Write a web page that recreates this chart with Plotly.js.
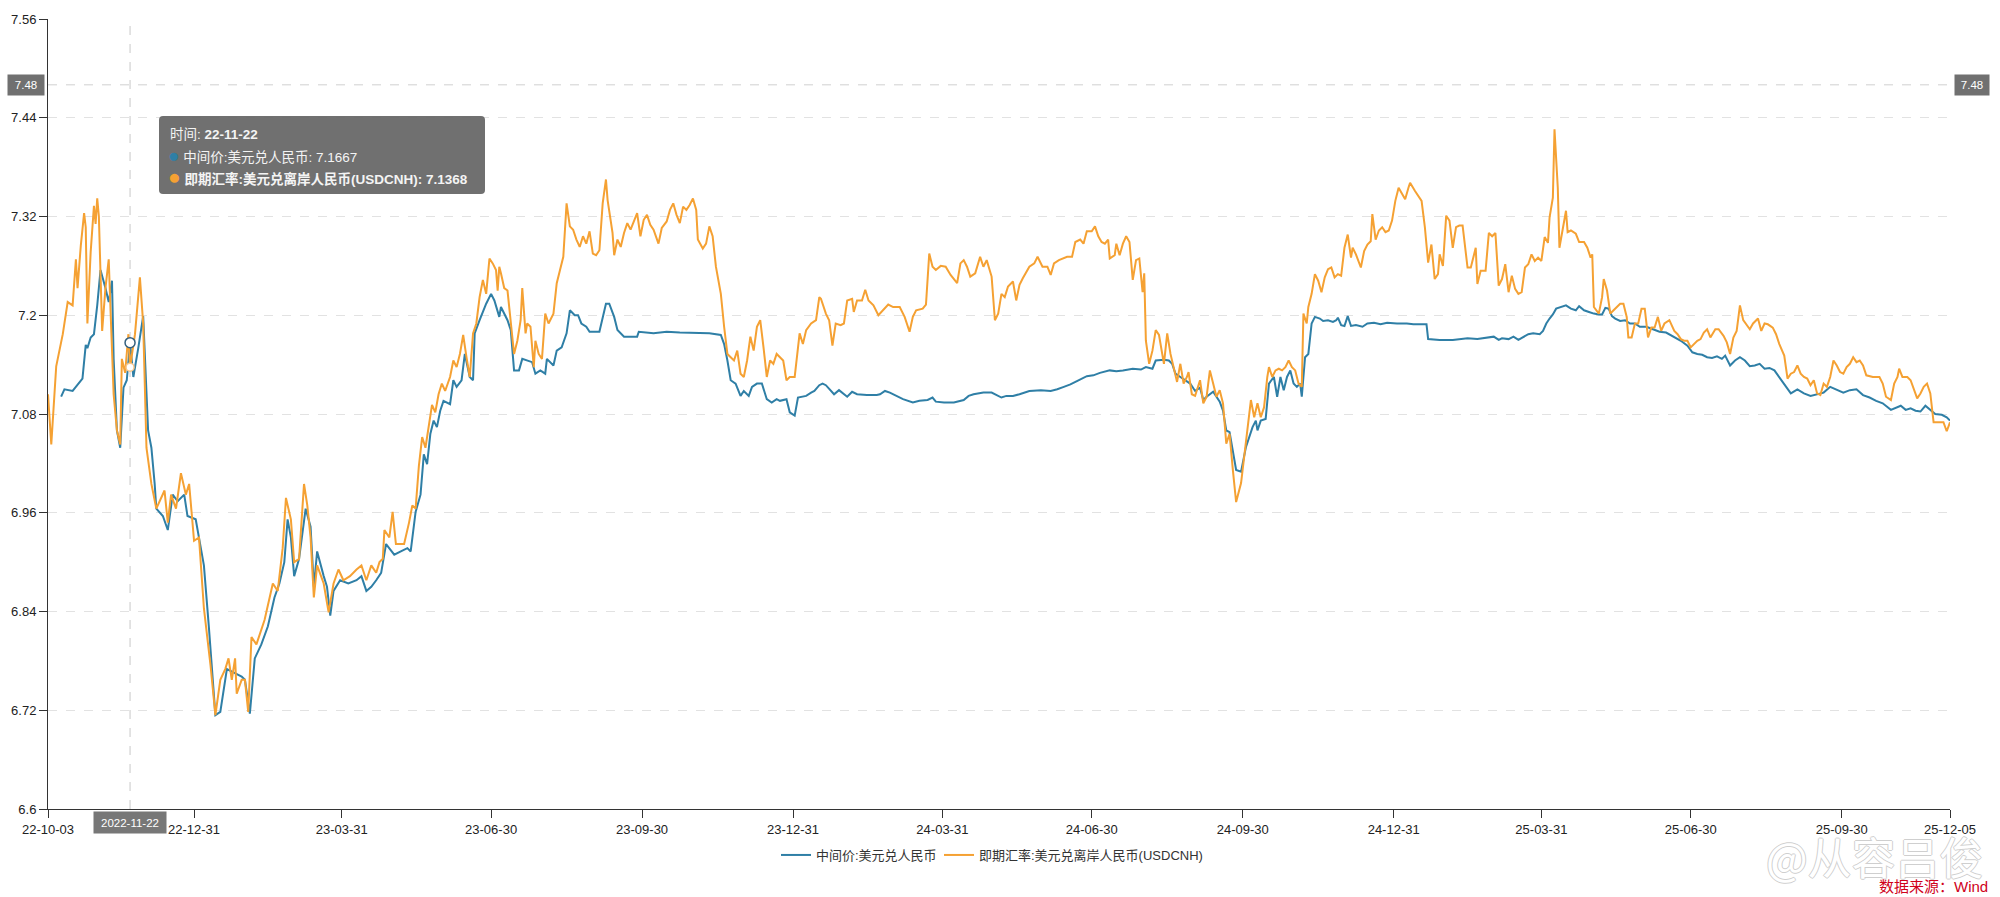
<!DOCTYPE html>
<html>
<head>
<meta charset="utf-8">
<script src="https://cdn.plot.ly/plotly-3.0.1.min.js"></script>
<style>
html,body{margin:0;padding:0;background:#fff;}
#chart{width:2000px;height:897px;}
</style>
</head>
<body>
<div id="chart"></div>
<script>
// ---------------- DATA ----------------
// 中间价:美元兑人民币 (CNY central parity)
const cnyDates = [
'2022-10-11','2022-10-13','2022-10-18','2022-10-21','2022-10-24','2022-10-26','2022-10-27','2022-10-29','2022-10-31',
'2022-11-02','2022-11-04','2022-11-07','2022-11-09','2022-11-11','2022-11-12','2022-11-14','2022-11-16','2022-11-18','2022-11-20','2022-11-22','2022-11-24','2022-11-27','2022-11-30',
'2022-12-03','2022-12-05','2022-12-07','2022-12-08','2022-12-12','2022-12-15','2022-12-18','2022-12-21','2022-12-25','2022-12-27',
'2023-01-01','2023-01-06','2023-01-09','2023-01-11','2023-01-13','2023-01-16','2023-01-20','2023-01-24','2023-01-29','2023-01-31',
'2023-02-03','2023-02-06','2023-02-10','2023-02-14','2023-02-18','2023-02-21','2023-02-24','2023-02-26','2023-02-28',
'2023-03-02','2023-03-05','2023-03-09','2023-03-12','2023-03-14','2023-03-16','2023-03-20','2023-03-22','2023-03-24','2023-03-26','2023-03-30',
'2023-04-04','2023-04-09','2023-04-12','2023-04-15','2023-04-18','2023-04-21','2023-04-24','2023-04-27',
'2023-05-02','2023-05-06','2023-05-10','2023-05-12','2023-05-15','2023-05-18','2023-05-20','2023-05-22','2023-05-24','2023-05-26','2023-05-28','2023-05-30',
'2023-06-01','2023-06-05','2023-06-07','2023-06-09','2023-06-12','2023-06-14','2023-06-17','2023-06-19','2023-06-20','2023-06-23','2023-06-27','2023-06-30',
'2023-07-02','2023-07-05','2023-07-06','2023-07-10','2023-07-12','2023-07-14','2023-07-17','2023-07-19','2023-07-22','2023-07-25','2023-07-27','2023-07-30',
'2023-08-02','2023-08-03','2023-08-07','2023-08-09','2023-08-12','2023-08-15','2023-08-17','2023-08-20','2023-08-22','2023-08-24','2023-08-27','2023-08-29',
'2023-09-04','2023-09-06','2023-09-08','2023-09-10','2023-09-13','2023-09-15','2023-09-19','2023-09-27','2023-09-28',
'2023-10-07','2023-10-15','2023-10-23','2023-11-02','2023-11-10','2023-11-17','2023-11-19','2023-11-21','2023-11-23','2023-11-26','2023-11-29',
'2023-12-01','2023-12-04','2023-12-06','2023-12-09','2023-12-12','2023-12-15','2023-12-18','2023-12-21','2023-12-23','2023-12-27','2023-12-29',
'2024-01-01','2024-01-03','2024-01-08','2024-01-11','2024-01-13','2024-01-16','2024-01-18','2024-01-20','2024-01-23','2024-01-25','2024-01-28','2024-01-31',
'2024-02-02','2024-02-05','2024-02-08','2024-02-14','2024-02-20','2024-02-22','2024-02-25','2024-02-28',
'2024-03-03','2024-03-07','2024-03-13','2024-03-17','2024-03-22','2024-03-25','2024-03-27',
'2024-04-01','2024-04-07','2024-04-13','2024-04-16','2024-04-19','2024-04-25','2024-04-30',
'2024-05-06','2024-05-09','2024-05-13','2024-05-17','2024-05-23','2024-05-30',
'2024-06-05','2024-06-09','2024-06-13','2024-06-17','2024-06-21','2024-06-27',
'2024-07-01','2024-07-05','2024-07-11','2024-07-15','2024-07-19','2024-07-25','2024-07-30',
'2024-08-02','2024-08-06','2024-08-08','2024-08-13','2024-08-16','2024-08-18','2024-08-20','2024-08-23','2024-08-26','2024-08-29',
'2024-09-01','2024-09-04','2024-09-06','2024-09-08','2024-09-12','2024-09-14','2024-09-16','2024-09-18','2024-09-20','2024-09-22','2024-09-24','2024-09-26','2024-09-29',
'2024-10-02','2024-10-06','2024-10-08','2024-10-09','2024-10-11','2024-10-14','2024-10-16','2024-10-19','2024-10-21','2024-10-23','2024-10-25','2024-10-27','2024-10-29','2024-10-31',
'2024-11-02','2024-11-04','2024-11-05','2024-11-07','2024-11-09','2024-11-11','2024-11-13','2024-11-16','2024-11-18','2024-11-21','2024-11-24','2024-11-26','2024-11-27','2024-11-29',
'2024-12-01','2024-12-03','2024-12-05','2024-12-08','2024-12-12','2024-12-15','2024-12-19','2024-12-23','2024-12-27',
'2025-01-02','2025-01-08','2025-01-12','2025-01-20','2025-01-21','2025-01-28',
'2025-02-05','2025-02-14','2025-02-20','2025-02-24',
'2025-03-02','2025-03-05','2025-03-07','2025-03-11','2025-03-14','2025-03-17','2025-03-20','2025-03-23','2025-03-26','2025-03-30',
'2025-04-01','2025-04-03','2025-04-05','2025-04-07','2025-04-09','2025-04-12','2025-04-15','2025-04-18','2025-04-21','2025-04-23','2025-04-26','2025-04-29',
'2025-05-02','2025-05-05','2025-05-07','2025-05-09','2025-05-11','2025-05-13','2025-05-15','2025-05-18','2025-05-21','2025-05-24','2025-05-27','2025-05-30',
'2025-06-03','2025-06-07','2025-06-11','2025-06-15','2025-06-20','2025-06-24','2025-06-28',
'2025-07-01','2025-07-04','2025-07-07','2025-07-10','2025-07-13','2025-07-16','2025-07-19','2025-07-21','2025-07-24','2025-07-27','2025-07-30',
'2025-08-02','2025-08-05','2025-08-08','2025-08-11','2025-08-14','2025-08-17','2025-08-20','2025-08-23','2025-08-27','2025-08-30',
'2025-09-03','2025-09-07','2025-09-11','2025-09-15','2025-09-19','2025-09-23','2025-09-27',
'2025-10-01','2025-10-05','2025-10-09','2025-10-13','2025-10-17','2025-10-21','2025-10-25','2025-10-30',
'2025-11-02','2025-11-05','2025-11-08','2025-11-11','2025-11-14','2025-11-17','2025-11-20','2025-11-23','2025-11-26','2025-11-30','2025-12-03','2025-12-05'
];
const cnyValues = [
7.101,7.11,7.108,7.116,7.123,7.164,7.16,7.173,7.177,
7.212,7.255,7.233,7.216,7.242,7.147,7.06,7.039,7.112,7.121,7.1667,7.125,7.16,7.199,
7.06,7.039,6.995,6.965,6.956,6.939,6.982,6.974,6.982,6.956,
6.952,6.896,6.822,6.766,6.714,6.718,6.77,6.766,6.761,6.757,
6.716,6.783,6.80,6.822,6.857,6.874,6.90,6.952,6.93,
6.883,6.904,6.965,6.943,6.87,6.913,6.883,6.87,6.835,6.865,6.878,
6.874,6.878,6.883,6.865,6.87,6.878,6.887,6.922,
6.909,6.913,6.917,6.913,6.961,6.982,7.031,7.019,7.056,7.072,7.064,7.084,
7.096,7.092,7.121,7.113,7.121,7.153,7.125,7.121,7.178,7.194,7.214,7.226,
7.218,7.198,7.21,7.194,7.182,7.133,7.133,7.147,7.145,7.143,7.129,7.133,
7.129,7.147,7.139,7.157,7.161,7.178,7.206,7.2,7.2,7.19,7.186,7.18,
7.18,7.198,7.214,7.214,7.198,7.182,7.174,7.174,7.18,
7.178,7.18,7.179,7.178,7.178,7.176,7.165,7.145,7.121,7.117,7.102,
7.108,7.102,7.113,7.117,7.117,7.098,7.094,7.098,7.096,7.098,7.082,
7.078,7.1,7.102,7.106,7.108,7.115,7.117,7.115,7.108,7.104,7.109,7.104,
7.101,7.107,7.104,7.103,7.103,7.104,7.108,7.106,
7.102,7.098,7.094,7.096,7.097,7.1,7.095,
7.094,7.094,7.097,7.102,7.104,7.106,7.106,
7.1,7.102,7.102,7.104,7.108,7.109,
7.108,7.11,7.113,7.116,7.12,7.126,
7.127,7.13,7.133,7.132,7.133,7.135,7.134,
7.137,7.135,7.145,7.146,7.145,7.141,7.129,7.125,7.121,7.117,
7.108,7.112,7.097,7.101,7.107,7.101,7.095,7.084,7.06,7.058,7.036,7.012,7.01,
7.04,7.064,7.072,7.06,7.072,7.074,7.117,7.125,7.101,7.125,7.109,7.125,7.133,7.117,
7.113,7.117,7.101,7.149,7.153,7.19,7.198,7.196,7.193,7.194,7.192,7.194,7.197,7.188,
7.187,7.199,7.187,7.188,7.186,7.19,7.191,7.189,7.191,
7.19,7.19,7.189,7.189,7.171,7.17,
7.17,7.172,7.171,7.172,
7.174,7.17,7.172,7.171,7.174,7.17,7.174,7.177,7.178,7.177,
7.181,7.19,7.196,7.201,7.208,7.21,7.212,7.208,7.206,7.211,7.206,7.204,
7.202,7.201,7.201,7.209,7.208,7.199,7.196,7.193,7.194,7.19,7.19,7.186,
7.186,7.183,7.18,7.179,7.174,7.169,7.163,
7.155,7.153,7.152,7.149,7.148,7.15,7.147,7.151,7.139,7.145,7.149,
7.145,7.138,7.139,7.141,7.135,7.136,7.133,7.125,7.113,7.105,
7.11,7.105,7.102,7.104,7.106,7.113,7.109,
7.106,7.109,7.11,7.103,7.1,7.096,7.093,7.085,
7.088,7.09,7.085,7.087,7.084,7.083,7.09,7.085,7.08,7.079,7.076,7.072
];

// 即期汇率:美元兑离岸人民币(USDCNH)
const cnhDates = [
'2022-10-03','2022-10-05','2022-10-08','2022-10-12','2022-10-15','2022-10-18','2022-10-20','2022-10-21','2022-10-23','2022-10-25','2022-10-26','2022-10-27','2022-10-29','2022-10-31',
'2022-11-01','2022-11-02','2022-11-03','2022-11-04','2022-11-05','2022-11-07','2022-11-09','2022-11-10','2022-11-12','2022-11-14','2022-11-16','2022-11-17','2022-11-19','2022-11-21','2022-11-22','2022-11-25','2022-11-28','2022-11-30',
'2022-12-02','2022-12-05','2022-12-08','2022-12-13','2022-12-15','2022-12-17','2022-12-20','2022-12-23','2022-12-26','2022-12-28','2022-12-31',
'2023-01-03','2023-01-06','2023-01-10','2023-01-13','2023-01-16','2023-01-19','2023-01-21','2023-01-23','2023-01-25','2023-01-26','2023-01-29','2023-01-31',
'2023-02-02','2023-02-04','2023-02-07','2023-02-12','2023-02-17','2023-02-20','2023-02-23','2023-02-25','2023-02-28',
'2023-03-02','2023-03-05','2023-03-08','2023-03-10','2023-03-12','2023-03-14','2023-03-16','2023-03-20','2023-03-23','2023-03-26','2023-03-29',
'2023-04-01','2023-04-05','2023-04-09','2023-04-12','2023-04-15','2023-04-18','2023-04-21','2023-04-23','2023-04-25','2023-04-26','2023-04-29',
'2023-05-01','2023-05-03','2023-05-08','2023-05-11','2023-05-13','2023-05-15','2023-05-17','2023-05-19','2023-05-21','2023-05-25','2023-05-27','2023-05-29','2023-05-31',
'2023-06-02','2023-06-05','2023-06-07','2023-06-09','2023-06-11','2023-06-13','2023-06-15','2023-06-17','2023-06-19','2023-06-21','2023-06-23','2023-06-25','2023-06-27','2023-06-29',
'2023-07-01','2023-07-03','2023-07-04','2023-07-05','2023-07-06','2023-07-08','2023-07-10','2023-07-12','2023-07-14','2023-07-16','2023-07-18','2023-07-19','2023-07-21','2023-07-22','2023-07-24','2023-07-26','2023-07-27','2023-07-29','2023-07-31',
'2023-08-02','2023-08-04','2023-08-07','2023-08-09','2023-08-11','2023-08-13','2023-08-15','2023-08-17','2023-08-19','2023-08-21','2023-08-23','2023-08-25','2023-08-27','2023-08-29','2023-08-31',
'2023-09-02','2023-09-04','2023-09-06','2023-09-08','2023-09-09','2023-09-12','2023-09-13','2023-09-15','2023-09-17','2023-09-19','2023-09-21','2023-09-23','2023-09-25','2023-09-27','2023-09-29',
'2023-10-01','2023-10-03','2023-10-05','2023-10-07','2023-10-10','2023-10-12','2023-10-15','2023-10-17','2023-10-19','2023-10-21','2023-10-23','2023-10-25','2023-10-27','2023-10-29','2023-10-31',
'2023-11-02','2023-11-03','2023-11-06','2023-11-08','2023-11-10','2023-11-12','2023-11-14','2023-11-17','2023-11-19','2023-11-21','2023-11-23','2023-11-25','2023-11-27','2023-11-29',
'2023-12-01','2023-12-03','2023-12-05','2023-12-07','2023-12-09','2023-12-11','2023-12-13','2023-12-15','2023-12-17','2023-12-19','2023-12-21','2023-12-23','2023-12-25','2023-12-27','2023-12-29',
'2024-01-01','2024-01-04','2024-01-06','2024-01-08','2024-01-11','2024-01-14','2024-01-16','2024-01-17','2024-01-20','2024-01-22','2024-01-24','2024-01-26','2024-01-29','2024-01-31',
'2024-02-02','2024-02-05','2024-02-06','2024-02-08','2024-02-11','2024-02-13','2024-02-15','2024-02-18','2024-02-21','2024-02-24','2024-02-27',
'2024-03-01','2024-03-05','2024-03-08','2024-03-11','2024-03-13','2024-03-15','2024-03-19','2024-03-21','2024-03-23','2024-03-25','2024-03-27','2024-03-30',
'2024-04-02','2024-04-05','2024-04-09','2024-04-11','2024-04-13','2024-04-15','2024-04-17','2024-04-20','2024-04-23','2024-04-25','2024-04-27','2024-04-30',
'2024-05-02','2024-05-04','2024-05-06','2024-05-08','2024-05-10','2024-05-13','2024-05-15','2024-05-17','2024-05-19','2024-05-21','2024-05-23','2024-05-26','2024-05-28','2024-05-31',
'2024-06-03','2024-06-05','2024-06-07','2024-06-10','2024-06-13','2024-06-15','2024-06-18','2024-06-20','2024-06-23','2024-06-25','2024-06-27','2024-06-30',
'2024-07-02','2024-07-04','2024-07-06','2024-07-08','2024-07-10','2024-07-11','2024-07-14','2024-07-15','2024-07-17','2024-07-19','2024-07-21','2024-07-23','2024-07-25','2024-07-27','2024-07-29','2024-07-31',
'2024-08-01','2024-08-02','2024-08-04','2024-08-06','2024-08-08','2024-08-10','2024-08-13','2024-08-15','2024-08-17','2024-08-19','2024-08-21','2024-08-23','2024-08-25','2024-08-27','2024-08-28','2024-08-30',
'2024-09-01','2024-09-04','2024-09-06','2024-09-08','2024-09-10','2024-09-12','2024-09-14','2024-09-16','2024-09-18','2024-09-20','2024-09-22','2024-09-24','2024-09-26','2024-09-29',
'2024-10-02','2024-10-05','2024-10-07','2024-10-09','2024-10-11','2024-10-13','2024-10-15','2024-10-16','2024-10-18','2024-10-20','2024-10-22','2024-10-24','2024-10-26','2024-10-28','2024-10-30',
'2024-11-01','2024-11-03','2024-11-05','2024-11-06','2024-11-08','2024-11-09','2024-11-11','2024-11-13','2024-11-15','2024-11-17','2024-11-19','2024-11-21','2024-11-23','2024-11-25','2024-11-27','2024-11-29',
'2024-12-01','2024-12-03','2024-12-05','2024-12-06','2024-12-08','2024-12-11','2024-12-13','2024-12-15','2024-12-17','2024-12-18','2024-12-20','2024-12-22','2024-12-24','2024-12-26','2024-12-28','2024-12-30',
'2025-01-01','2025-01-03','2025-01-05','2025-01-07','2025-01-09','2025-01-10','2025-01-13','2025-01-15','2025-01-17','2025-01-19','2025-01-21','2025-01-23','2025-01-25','2025-01-27','2025-01-28','2025-01-30',
'2025-02-01','2025-02-03','2025-02-05','2025-02-07','2025-02-09','2025-02-11','2025-02-14','2025-02-16','2025-02-19','2025-02-20','2025-02-22','2025-02-25','2025-02-27',
'2025-03-01','2025-03-03','2025-03-05','2025-03-07','2025-03-09','2025-03-11','2025-03-13','2025-03-15','2025-03-17','2025-03-19','2025-03-21','2025-03-23','2025-03-25','2025-03-27','2025-03-29','2025-03-31',
'2025-04-02','2025-04-04','2025-04-05','2025-04-07','2025-04-08','2025-04-10','2025-04-11','2025-04-13','2025-04-15','2025-04-16','2025-04-18','2025-04-21','2025-04-23','2025-04-26','2025-04-28','2025-04-30',
'2025-05-01','2025-05-02','2025-05-05','2025-05-07','2025-05-08','2025-05-10','2025-05-12','2025-05-14','2025-05-16','2025-05-18','2025-05-20','2025-05-22','2025-05-23','2025-05-25','2025-05-27','2025-05-29','2025-05-31',
'2025-06-02','2025-06-04','2025-06-06','2025-06-08','2025-06-10','2025-06-12','2025-06-14','2025-06-17','2025-06-20','2025-06-22','2025-06-24','2025-06-26','2025-06-28','2025-06-30',
'2025-07-02','2025-07-04','2025-07-06','2025-07-08','2025-07-10','2025-07-12','2025-07-15','2025-07-17','2025-07-20','2025-07-22','2025-07-24','2025-07-26','2025-07-28','2025-07-30',
'2025-08-01','2025-08-03','2025-08-05','2025-08-07','2025-08-10','2025-08-12','2025-08-14','2025-08-16','2025-08-19','2025-08-21','2025-08-23','2025-08-26','2025-08-28','2025-08-30',
'2025-09-01','2025-09-03','2025-09-05','2025-09-07','2025-09-09','2025-09-11','2025-09-13','2025-09-15','2025-09-17','2025-09-19','2025-09-21','2025-09-23','2025-09-25','2025-09-27','2025-09-29',
'2025-10-01','2025-10-03','2025-10-05','2025-10-07','2025-10-09','2025-10-11','2025-10-13','2025-10-15','2025-10-19','2025-10-23','2025-10-25','2025-10-27','2025-10-30',
'2025-11-01','2025-11-03','2025-11-04','2025-11-06','2025-11-09','2025-11-11','2025-11-13','2025-11-15','2025-11-17','2025-11-19','2025-11-21','2025-11-23','2025-11-25','2025-11-28','2025-12-01','2025-12-03','2025-12-05'
];
const cnhValues = [
7.104,7.043,7.138,7.177,7.216,7.212,7.268,7.233,7.285,7.324,7.307,7.19,7.277,7.333,
7.311,7.342,7.32,7.255,7.181,7.233,7.268,7.212,7.104,7.06,7.043,7.147,7.13,7.177,7.1368,7.177,7.246,7.19,
7.039,6.995,6.965,6.987,6.948,6.982,6.965,7.008,6.982,6.995,6.926,
6.93,6.844,6.775,6.714,6.757,6.77,6.783,6.757,6.783,6.74,6.757,6.757,
6.718,6.809,6.80,6.83,6.874,6.865,6.917,6.978,6.952,
6.90,6.904,6.995,6.969,6.93,6.857,6.896,6.874,6.839,6.874,6.891,
6.878,6.883,6.891,6.896,6.878,6.896,6.887,6.90,6.904,6.939,6.93,
6.961,6.922,6.922,6.948,6.969,6.965,7.017,7.052,7.039,7.091,7.082,7.104,7.117,
7.108,7.125,7.145,7.137,7.153,7.176,7.149,7.125,7.178,7.19,7.222,7.243,7.226,7.269,
7.263,7.255,7.23,7.259,7.251,7.233,7.23,7.194,7.153,7.169,7.194,7.233,7.178,7.19,7.186,7.137,7.169,7.153,7.147,
7.202,7.19,7.202,7.239,7.255,7.271,7.336,7.308,7.304,7.292,7.283,7.296,7.287,7.302,7.275,
7.273,7.279,7.336,7.365,7.34,7.30,7.273,7.292,7.283,7.30,7.312,7.304,7.314,7.324,7.296,
7.316,7.322,7.31,7.304,7.287,7.306,7.314,7.328,7.336,7.322,7.312,7.332,7.328,7.334,7.342,
7.328,7.292,7.281,7.287,7.308,7.296,7.259,7.226,7.186,7.153,7.149,7.145,7.157,7.129,
7.125,7.145,7.174,7.157,7.186,7.194,7.161,7.125,7.145,7.141,7.153,7.149,7.145,7.121,7.125,
7.125,7.178,7.165,7.182,7.19,7.194,7.222,7.22,7.202,7.194,7.163,7.19,7.188,7.19,
7.218,7.22,7.204,7.218,7.218,7.231,7.218,7.212,7.2,7.206,7.213,
7.21,7.21,7.198,7.18,7.198,7.206,7.208,7.213,7.275,7.259,7.255,7.26,
7.259,7.249,7.239,7.263,7.267,7.259,7.247,7.251,7.271,7.259,7.267,7.247,
7.194,7.202,7.226,7.222,7.235,7.241,7.218,7.237,7.245,7.253,7.259,7.263,7.271,7.259,
7.259,7.249,7.263,7.267,7.269,7.271,7.271,7.289,7.292,7.287,7.302,7.302,
7.308,7.296,7.289,7.287,7.292,7.269,7.273,7.287,7.273,7.287,7.296,7.289,7.243,7.267,7.269,7.228,
7.251,7.169,7.141,7.157,7.182,7.176,7.141,7.178,7.153,7.137,7.119,7.141,7.117,7.125,7.131,7.104,
7.102,7.121,7.093,7.101,7.133,7.117,7.101,7.109,7.093,7.044,7.056,7.012,6.973,6.996,
7.044,7.097,7.076,7.093,7.076,7.088,7.125,7.137,7.125,7.133,7.135,7.133,7.137,7.145,7.137,
7.133,7.117,7.113,7.202,7.19,7.21,7.226,7.25,7.242,7.228,7.246,7.256,7.258,7.246,7.25,7.248,
7.282,7.298,7.27,7.282,7.274,7.258,7.278,7.286,7.29,7.323,7.292,7.303,7.307,7.301,7.303,7.315,
7.339,7.355,7.347,7.341,7.355,7.361,7.351,7.345,7.339,7.307,7.264,7.286,7.244,7.25,7.274,7.26,
7.321,7.315,7.282,7.307,7.309,7.309,7.258,7.258,7.282,7.238,7.254,7.254,7.30,
7.296,7.30,7.236,7.244,7.262,7.228,7.248,7.232,7.226,7.228,7.258,7.262,7.274,7.266,7.27,7.266,
7.295,7.288,7.319,7.343,7.426,7.355,7.282,7.303,7.327,7.301,7.303,7.299,7.289,7.289,7.282,7.27,
7.274,7.21,7.202,7.222,7.244,7.23,7.202,7.206,7.21,7.214,7.214,7.198,7.173,7.173,7.19,7.19,7.208,
7.208,7.173,7.185,7.185,7.198,7.181,7.19,7.194,7.181,7.177,7.171,7.169,7.169,7.161,
7.165,7.169,7.171,7.179,7.183,7.173,7.183,7.183,7.175,7.167,7.153,7.173,7.181,7.212,
7.194,7.188,7.183,7.19,7.196,7.181,7.19,7.189,7.185,7.177,7.165,7.151,7.123,7.129,
7.131,7.139,7.129,7.125,7.123,7.115,7.121,7.105,7.103,7.117,7.113,7.125,7.145,7.139,7.131,
7.129,7.137,7.141,7.149,7.143,7.145,7.139,7.127,7.125,7.125,7.117,7.101,7.097,
7.117,7.125,7.135,7.125,7.125,7.121,7.109,7.099,7.105,7.113,7.117,7.105,7.07,7.07,7.07,7.059,7.07
];

const seriesNames = ['中间价:美元兑人民币', '即期汇率:美元兑离岸人民币(USDCNH)'];
const seriesColors = ['#2f7fa6', '#f5a133'];

const xTickDates = ['2022-10-03','2022-12-31','2023-03-31','2023-06-30','2023-09-30','2023-12-31','2024-03-31','2024-06-30','2024-09-30','2024-12-31','2025-03-31','2025-06-30','2025-09-30','2025-12-05'];
const xTickLabels = ['22-10-03','22-12-31','23-03-31','23-06-30','23-09-30','23-12-31','24-03-31','24-06-30','24-09-30','24-12-31','25-03-31','25-06-30','25-09-30','25-12-05'];
const yTickValues = [6.6,6.72,6.84,6.96,7.08,7.2,7.32,7.44,7.56];
const yTickLabels = ['6.6','6.72','6.84','6.96','7.08','7.2','7.32','7.44','7.56'];

// hover state shown in the picture
const hoverDate = '2022-11-22';
const hoverDateLabel = '22-11-22';
const hoverDateFull = '2022-11-22';
const hoverCNY = 7.1667;
const hoverCNH = 7.1368;
const crossY = 7.48;

// ---------------- CHART ----------------
const FONT = 'Liberation Sans, Arial, Noto Sans CJK SC, sans-serif';
const W = 2000, H = 897, ML = 48, MR = 50, MT = 19, MB = 88;
const PW = W - ML - MR, PH = H - MT - MB;
const px = v => (v - ML) / PW;          // pixel x -> paper x
const py = v => (H - MB - v) / PH;      // pixel y -> paper y

const traces = [
  {x: cnyDates, y: cnyValues, type: 'scatter', mode: 'lines', name: seriesNames[0],
   line: {color: seriesColors[0], width: 2}, legend: 'legend'},
  {x: cnhDates, y: cnhValues, type: 'scatter', mode: 'lines', name: seriesNames[1],
   line: {color: seriesColors[1], width: 2}, legend: 'legend2'},
  {x: [hoverDate], y: [hoverCNH], type: 'scatter', mode: 'markers', showlegend: false,
   marker: {size: 8, color: '#ffffff', line: {color: '#f7c68a', width: 1.5}}, cliponaxis: false},
  {x: [hoverDate], y: [hoverCNY], type: 'scatter', mode: 'markers', showlegend: false,
   marker: {size: 10, color: '#ffffff', line: {color: '#34607f', width: 1.5}}, cliponaxis: false}
];

// rounded tooltip box (paper coords)
const bx0 = px(159), bx1 = px(485), by0 = py(194), by1 = py(116);
const rx = 4 / PW, ry = 4 / PH;
const tipPath = 'M' + (bx0 + rx) + ',' + by1 +
  ' L' + (bx1 - rx) + ',' + by1 + ' Q' + bx1 + ',' + by1 + ' ' + bx1 + ',' + (by1 - ry) +
  ' L' + bx1 + ',' + (by0 + ry) + ' Q' + bx1 + ',' + by0 + ' ' + (bx1 - rx) + ',' + by0 +
  ' L' + (bx0 + rx) + ',' + by0 + ' Q' + bx0 + ',' + by0 + ' ' + bx0 + ',' + (by0 + ry) +
  ' L' + bx0 + ',' + (by1 - ry) + ' Q' + bx0 + ',' + by1 + ' ' + (bx0 + rx) + ',' + by1 + ' Z';

const legendBase = {orientation: 'h', xanchor: 'left', yanchor: 'middle', y: py(855),
  font: {family: FONT, size: 13, color: '#333'}, itemwidth: 30, bgcolor: 'rgba(0,0,0,0)',
  borderwidth: 0};
const outline = '#cfcfcf';
const layout = {
  width: W, height: H,
  margin: {l: ML, r: MR, t: MT, b: MB, pad: 0},
  paper_bgcolor: '#ffffff', plot_bgcolor: '#ffffff',
  font: {family: FONT, size: 13, color: '#333'},
  showlegend: true,
  legend: Object.assign({}, legendBase, {x: px(776)}),
  legend2: Object.assign({}, legendBase, {x: px(939)}),
  xaxis: {type: 'date', range: ['2022-10-03', '2025-12-05'],
          tickmode: 'array', tickvals: xTickDates, ticktext: xTickLabels,
          showgrid: false, zeroline: false, showline: true, linecolor: '#333', linewidth: 1,
          ticks: 'outside', ticklen: 8, tickwidth: 1, tickcolor: '#333',
          tickfont: {family: FONT, size: 13, color: '#222'}},
  yaxis: {range: [6.6, 7.56], tickmode: 'array', tickvals: yTickValues, ticktext: yTickLabels,
          showgrid: true, gridcolor: '#e2e2e2', griddash: 'dash', gridwidth: 1,
          zeroline: false, showline: true, linecolor: '#333', linewidth: 1,
          ticks: 'outside', ticklen: 8, tickwidth: 1, tickcolor: '#333',
          tickfont: {family: FONT, size: 13, color: '#222'}},
  shapes: [
    {type: 'line', xref: 'x', yref: 'paper', x0: hoverDate, x1: hoverDate, y0: 0, y1: 1,
     line: {color: '#c8c8c8', width: 1, dash: 'dash'}, layer: 'below'},
    {type: 'line', xref: 'paper', yref: 'y', x0: 0, x1: 1, y0: crossY, y1: crossY,
     line: {color: '#d0d0d0', width: 1, dash: 'dash'}, layer: 'below'},
    {type: 'path', xref: 'paper', yref: 'paper', path: tipPath,
     fillcolor: 'rgba(100,100,100,0.92)', line: {width: 0}, layer: 'above'}
  ],
  annotations: [
    {xref: 'paper', yref: 'y', x: 0, y: crossY, xanchor: 'right', yanchor: 'middle', xshift: -3,
     text: String(crossY), showarrow: false, bgcolor: '#707070', borderpad: 4, width: 28, height: 12,
     font: {family: FONT, size: 11.5, color: '#ffffff'}},
    {xref: 'paper', yref: 'y', x: 1, y: crossY, xanchor: 'left', yanchor: 'middle', xshift: 4,
     text: String(crossY), showarrow: false, bgcolor: '#707070', borderpad: 4, width: 26, height: 12,
     font: {family: FONT, size: 11.5, color: '#ffffff'}},
    {xref: 'x', yref: 'paper', x: hoverDate, y: 0, xanchor: 'center', yanchor: 'top', yshift: -2,
     text: hoverDateFull, showarrow: false, bgcolor: '#777777', borderpad: 4, width: 64, height: 13,
     font: {family: FONT, size: 11.5, color: '#ffffff'}},
    {xref: 'paper', yref: 'paper', x: px(168), y: py(134), xanchor: 'left', yanchor: 'middle',
     showarrow: false, text: '时间: <b>' + hoverDateLabel + '</b>',
     font: {family: FONT, size: 13.5, color: '#f4f4f4'}},
    {xref: 'paper', yref: 'paper', x: px(166), y: py(155), xanchor: 'left', yanchor: 'middle',
     showarrow: false,
     text: '<span style="color:' + seriesColors[0] + ';font-size:19px">●</span> ' + seriesNames[0] + ': ' + hoverCNY.toFixed(4),
     font: {family: FONT, size: 13.5, color: '#f4f4f4'}},
    {xref: 'paper', yref: 'paper', x: px(166), y: py(177), xanchor: 'left', yanchor: 'middle',
     showarrow: false,
     text: '<span style="color:' + seriesColors[1] + ';font-size:21px">●</span> <b>' + seriesNames[1] + ': ' + hoverCNH.toFixed(4) + '</b>',
     font: {family: FONT, size: 13.5, color: '#f4f4f4'}},
    {xref: 'paper', yref: 'paper', x: px(1986), y: py(856), xanchor: 'right', yanchor: 'middle',
     showarrow: false, text: '@从容吕俊',
     font: {family: 'Noto Sans CJK SC, sans-serif', size: 44, color: '#ffffff',
            shadow: '1px 0 0 ' + outline + ', -1px 0 0 ' + outline + ', 0 1px 0 ' + outline + ', 0 -1px 0 ' + outline}},
    {xref: 'paper', yref: 'paper', x: px(1990), y: py(886), xanchor: 'right', yanchor: 'middle',
     showarrow: false, text: '数据来源：Wind',
     font: {family: FONT, size: 15, color: '#d0021b'}}
  ]
};

Plotly.newPlot('chart', traces, layout, {staticPlot: true, displayModeBar: false});
</script>
</body>
</html>
